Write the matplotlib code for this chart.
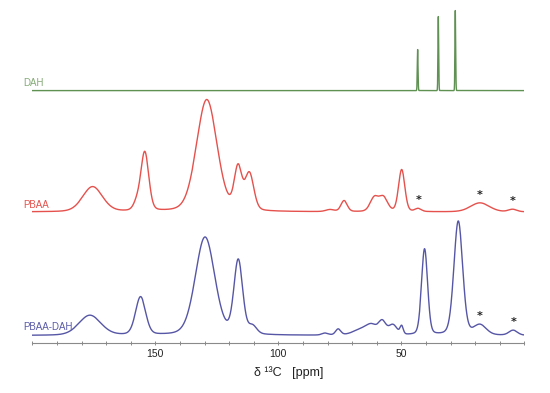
import numpy as np
import matplotlib
matplotlib.use("Agg")
import matplotlib.pyplot as plt

# ---- data: (center ppm, height, fwhm ppm) ----
dah_peaks = [(43.4, 41, 0.35), (35.0, 74, 0.35), (28.1, 80, 0.35)]
pbaa_peaks = [
    (175.5, 25, 9.5), (157.6, 7, 3.2), (154.3, 59, 3.8),
    (129.1, 112, 9.8), (116.4, 42, 3.6), (111.8, 37, 4.2),
    (79.0, 2, 4.0), (73.3, 11, 3.0), (61.0, 14, 4.0), (57.3, 14, 4.0),
    (49.9, 42, 3.0), (43.2, 3, 3.0), (18.1, 9, 9.0), (4.8, 2.5, 4.0),
]
pbaadah_peaks = [
    (176.6, 20, 10.5), (156.0, 38, 4.8), (129.8, 98, 9.3),
    (116.3, 74, 4.2), (110.5, 8, 4.0), (81.0, 2, 3.0), (75.7, 6, 2.5),
    (66.0, 6, 8.0), (62.0, 8, 5.0), (57.8, 13, 3.5), (53.5, 10, 4.0),
    (49.9, 8, 1.5), (40.6, 86, 2.9), (26.9, 114, 4.2), (18.1, 10, 6.0),
    (4.6, 5, 4.0),
]
names = ["DAH", "PBAA", "PBAA-DAH"]
pbaa_stars = [43.2, 18.1, 4.8]
pbaadah_stars = [18.1, 4.6]
tick_labels = [150, 100, 50]

# ---- styling / layout ----
offsets = {"DAH": 302.3, "PBAA": 181.0, "PBAA-DAH": 57.5}
line_colors = {"DAH": "#5f9152", "PBAA": "#e5514c", "PBAA-DAH": "#5656a6"}
label_colors = {"DAH": "#86ab78", "PBAA": "#e5514c", "PBAA-DAH": "#5a5aa8"}
label_dy = {"DAH": 7.5, "PBAA": 6.5, "PBAA-DAH": 8.5}

ppm = np.linspace(0, 200, 8001)


def spectrum(peaks, eta=0.25):
    y = np.zeros_like(ppm)
    for c, h, w in peaks:
        g = np.exp(-4 * np.log(2) * ((ppm - c) / w) ** 2)
        l = 1.0 / (1.0 + 4 * ((ppm - c) / w) ** 2)
        y += h * ((1 - eta) * g + eta * l)
    return y


fig = plt.figure(figsize=(5.5, 3.93), dpi=100)
ax = fig.add_axes([0.0587, 0.128, 0.8949, 0.852])
ax.set_xlim(200, 0)
ax.set_ylim(50.3, 385)

specs = {"DAH": dah_peaks, "PBAA": pbaa_peaks, "PBAA-DAH": pbaadah_peaks}
curves = {}
for n in names:
    eta = 0.0 if n == "DAH" else 0.2
    y = spectrum(specs[n], eta) + offsets[n]
    curves[n] = y
    ax.plot(ppm, y, color=line_colors[n], lw=1.0)
    ax.text(203.5, offsets[n] + label_dy[n], n, color=label_colors[n],
            fontsize=7, family="Liberation Sans", ha="left", va="center")

for n, stars, dy in [("PBAA", pbaa_stars, 8), ("PBAA-DAH", pbaadah_stars, 8)]:
    for s in stars:
        yv = np.interp(s, ppm, curves[n])
        ax.text(s, yv + dy, "*", fontsize=8, fontweight="bold", ha="center",
                va="center", color="#222222", family="DejaVu Sans")

for sp in ["left", "right", "top"]:
    ax.spines[sp].set_visible(False)
ax.spines["bottom"].set_color("#8a8a8a")
ax.spines["bottom"].set_linewidth(0.8)
ax.set_yticks([])
ax.set_xticks(np.arange(0, 201, 10))
ax.set_xticklabels([str(t) if t in tick_labels else "" for t in range(0, 201, 10)])
ax.tick_params(axis="x", direction="inout", length=3, width=0.7,
               color="#8a8a8a", labelsize=7.5, pad=3)
for lab in ax.get_xticklabels():
    lab.set_family("Liberation Sans")
    lab.set_color("#222222")

fig.text(0.525, 0.052, "δ \u00b9\u00b3C   [ppm]", ha="center", va="center",
         fontsize=9, family="Liberation Sans", color="#222222")

fig.savefig("out.png", dpi=100)
